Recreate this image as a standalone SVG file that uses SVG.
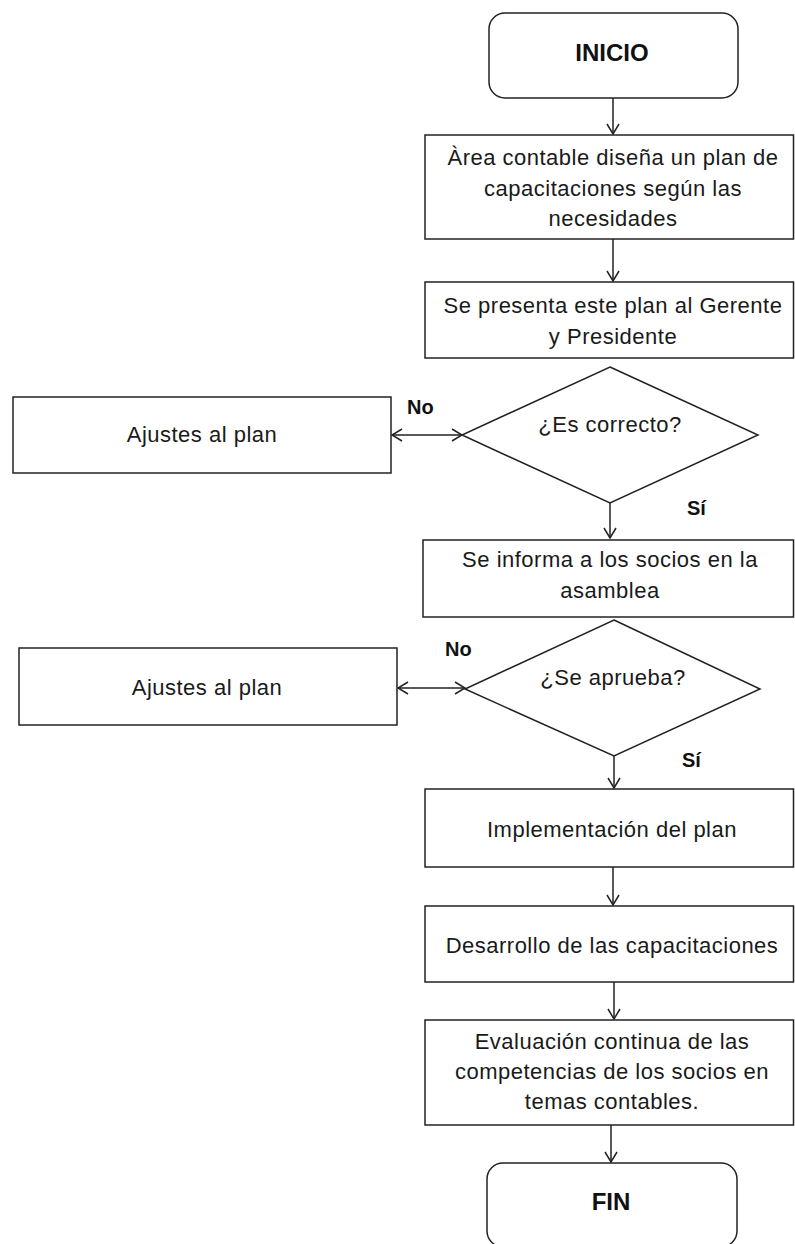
<svg xmlns="http://www.w3.org/2000/svg" width="795" height="1244" viewBox="0 0 795 1244">
  <style>
    .box { fill: #ffffff; stroke: #222222; stroke-width: 1.5; }
    .txt { font-family: "Liberation Sans", Arial, sans-serif; font-size: 22px; fill: #1a1a1a; text-anchor: middle; letter-spacing: 0.5px; }
    .bold { font-family: "Liberation Sans", Arial, sans-serif; font-weight: bold; fill: #111111; }
    .term { font-size: 24px; text-anchor: middle; }
    .lbl { font-size: 20px; }
    .conn { stroke: #222222; stroke-width: 1.5; fill: none; }
  </style>
  <defs>
    <marker id="arrow" viewBox="0 0 12 14" refX="11" refY="7" markerWidth="12" markerHeight="14" markerUnits="userSpaceOnUse" orient="auto-start-reverse">
      <path d="M1,1 L11,7 L1,13" fill="none" stroke="#222222" stroke-width="1.5"/>
    </marker>
  </defs>
  <rect width="795" height="1244" fill="#ffffff"/>

  <g id="connectors">
    <line class="conn" x1="613" y1="98" x2="613" y2="134" marker-end="url(#arrow)"/>
    <line class="conn" x1="613" y1="239" x2="613" y2="281" marker-end="url(#arrow)"/>
    <line class="conn" x1="610" y1="503" x2="610" y2="538" marker-end="url(#arrow)"/>
    <line class="conn" x1="614" y1="756" x2="614" y2="788" marker-end="url(#arrow)"/>
    <line class="conn" x1="613" y1="867" x2="613" y2="905" marker-end="url(#arrow)"/>
    <line class="conn" x1="614" y1="982" x2="614" y2="1019" marker-end="url(#arrow)"/>
    <line class="conn" x1="611" y1="1125" x2="611" y2="1162" marker-end="url(#arrow)"/>
    <line class="conn" x1="392" y1="435" x2="462" y2="435" stroke-width="2" marker-start="url(#arrow)" marker-end="url(#arrow)"/>
    <line class="conn" x1="398" y1="688" x2="465" y2="688" stroke-width="2" marker-start="url(#arrow)" marker-end="url(#arrow)"/>
    <text class="bold lbl" x="407" y="414">No</text>
    <text class="bold lbl" x="687" y="515">Sí</text>
    <text class="bold lbl" x="445" y="656">No</text>
    <text class="bold lbl" x="682" y="767">Sí</text>
  </g>

  <g id="inicio">
    <rect class="box" x="489" y="13" width="249" height="85" rx="16"/>
    <text class="bold term" x="612" y="61">INICIO</text>
  </g>

  <g id="disena">
    <rect class="box" x="425" y="135" width="368.5" height="104"/>
    <text class="txt" x="613" y="165">Àrea contable diseña un plan de</text>
    <text class="txt" x="613" y="196">capacitaciones según las</text>
    <text class="txt" x="613" y="226">necesidades</text>
  </g>

  <g id="presenta">
    <rect class="box" x="425" y="282" width="368.5" height="76"/>
    <text class="txt" x="613" y="313">Se presenta este plan al Gerente</text>
    <text class="txt" x="613" y="344">y Presidente</text>
  </g>

  <g id="correcto">
    <polygon class="box" points="610,367 758,435 610,503 462,435"/>
    <text class="txt" x="610" y="432">¿Es correcto?</text>
  </g>

  <g id="ajustes1">
    <rect class="box" x="13" y="397" width="378" height="76"/>
    <text class="txt" x="202" y="442">Ajustes al plan</text>
  </g>

  <g id="informa">
    <rect class="box" x="423" y="540" width="370.5" height="77"/>
    <text class="txt" x="610" y="567">Se informa a los socios en la</text>
    <text class="txt" x="610" y="598">asamblea</text>
  </g>

  <g id="aprueba">
    <polygon class="box" points="614,620 760,689 614,756 465,689"/>
    <text class="txt" x="613" y="685">¿Se aprueba?</text>
  </g>

  <g id="ajustes2">
    <rect class="box" x="19" y="648" width="378" height="77"/>
    <text class="txt" x="207" y="695">Ajustes al plan</text>
  </g>

  <g id="implementacion">
    <rect class="box" x="425" y="789" width="368.5" height="78"/>
    <text class="txt" x="612" y="837">Implementación del plan</text>
  </g>

  <g id="desarrollo">
    <rect class="box" x="425" y="906" width="368.5" height="76"/>
    <text class="txt" x="612" y="953">Desarrollo de las capacitaciones</text>
  </g>

  <g id="evaluacion">
    <rect class="box" x="425" y="1020" width="368.5" height="105"/>
    <text class="txt" x="612" y="1049">Evaluación continua de las</text>
    <text class="txt" x="612" y="1079">competencias de los socios en</text>
    <text class="txt" x="612" y="1109">temas contables.</text>
  </g>

  <g id="fin">
    <rect class="box" x="487" y="1163" width="250" height="84" rx="16"/>
    <text class="bold term" x="611" y="1210">FIN</text>
  </g>
</svg>
